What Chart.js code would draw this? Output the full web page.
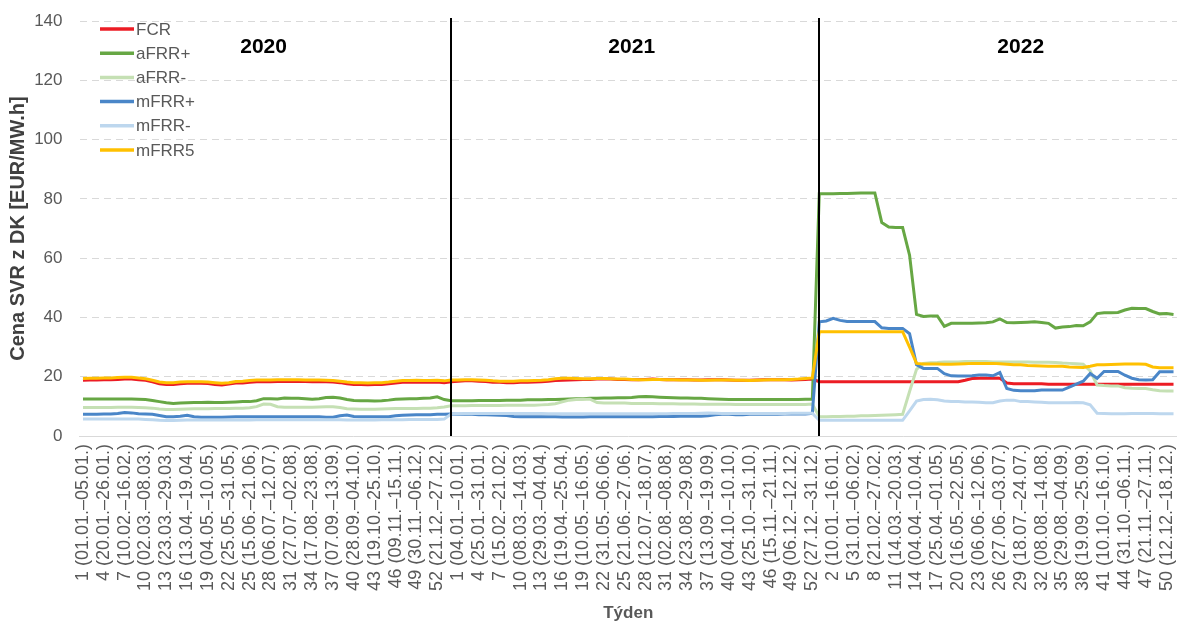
<!DOCTYPE html>
<html>
<head>
<meta charset="utf-8">
<script src="https://cdn.jsdelivr.net/npm/chart.js@4.4.1/dist/chart.umd.min.js"></script>
<style>
  html, body { margin: 0; padding: 0; background: #fff; }
  #wrap { width: 1177px; height: 624px; }
</style>
</head>
<body>
<div id="wrap"><canvas id="chart1" width="1177" height="624"></canvas></div>
<script>
// weekly prices, EUR/MW.h (2020: 53 entries, 2021: 53, 2022: 52)
var fcr = [
  18.8, 18.9, 18.9, 19.0, 19.0, 19.1, 19.2, 19.2, 19.0, 18.8,
  18.3, 17.6, 17.4, 17.4, 17.6, 17.8, 17.8, 17.8, 17.7, 17.4,
  17.2, 17.5, 17.9, 17.9, 18.1, 18.3, 18.3, 18.3, 18.4, 18.4,
  18.4, 18.4, 18.4, 18.3, 18.3, 18.3, 18.2, 18.0, 17.6, 17.4,
  17.4, 17.3, 17.4, 17.4, 17.6, 17.9, 18.1, 18.1, 18.2, 18.1,
  18.1, 18.2, 18.0,
  18.3, 18.5, 18.6, 18.6, 18.5, 18.4, 18.1, 18.1, 18.0, 18.0,
  18.1, 18.1, 18.2, 18.3, 18.5, 18.7, 18.8, 18.9, 19.0, 19.1,
  19.1, 19.2, 19.2, 19.2, 19.1, 19.1, 19.0, 19.0, 19.1, 19.2,
  19.1, 19.0, 19.0, 19.0, 19.0, 18.9, 18.9, 19.0, 19.0, 19.0,
  18.9, 18.8, 18.8, 18.8, 18.9, 19.0, 19.0, 19.0, 19.0, 18.9,
  19.0, 19.1, 19.2,
  18.3, 18.3, 18.3, 18.3, 18.3, 18.3, 18.3, 18.3, 18.3, 18.3,
  18.3, 18.3, 18.3, 18.3, 18.3, 18.3, 18.3, 18.3, 18.3, 18.3,
  18.3, 18.8, 19.4, 19.5, 19.5, 19.5, 19.5, 17.9, 17.6, 17.6,
  17.6, 17.6, 17.6, 17.5, 17.5, 17.5, 17.5, 17.5, 17.5, 17.5,
  17.5, 17.5, 17.5, 17.5, 17.5, 17.5, 17.5, 17.5, 17.5, 17.5,
  17.5, 17.5
];
var afrrPlus = [
  12.5, 12.5, 12.5, 12.5, 12.5, 12.5, 12.5, 12.5, 12.4, 12.3,
  12.0, 11.6, 11.2, 11.0, 11.1, 11.2, 11.3, 11.3, 11.4, 11.3,
  11.3, 11.4, 11.5, 11.6, 11.6, 11.9, 12.6, 12.6, 12.5, 12.8,
  12.7, 12.7, 12.6, 12.4, 12.6, 13.0, 13.1, 12.8, 12.3, 12.0,
  11.9, 11.9, 11.8, 11.9, 12.1, 12.4, 12.5, 12.6, 12.6, 12.7,
  12.8, 13.2, 12.3,
  11.9, 11.9, 11.9, 11.9, 12.0, 12.0, 12.0, 12.0, 12.1, 12.1,
  12.1, 12.2, 12.2, 12.2, 12.3, 12.3, 12.4, 12.5, 12.6, 12.6,
  12.7, 12.7, 12.8, 12.8, 12.9, 12.9, 13.0, 13.2, 13.3, 13.2,
  13.1, 13.0, 12.9, 12.8, 12.8, 12.7, 12.7, 12.6, 12.5, 12.4,
  12.3, 12.3, 12.3, 12.3, 12.3, 12.3, 12.3, 12.3, 12.3, 12.3,
  12.3, 12.4, 12.4,
  81.7, 81.7, 81.7, 81.8, 81.8, 81.9, 82.0, 82.0, 82.0, 72.0,
  70.5, 70.3, 70.3, 61.0, 41.0, 40.3, 40.5, 40.5, 37.0, 38.0,
  38.0, 38.0, 38.0, 38.1, 38.2, 38.5, 39.5, 38.3, 38.2, 38.3,
  38.4, 38.5, 38.3, 38.0, 36.4, 36.8, 36.9, 37.3, 37.2, 38.5,
  41.3, 41.6, 41.6, 41.7, 42.5, 43.1, 43.0, 43.0, 42.0, 41.2,
  41.3, 41.0
];
var afrrMinus = [
  9.6, 9.6, 9.6, 9.6, 9.6, 9.7, 9.7, 9.7, 9.6, 9.5,
  9.4, 9.1, 8.9, 8.9, 9.0, 9.1, 9.2, 9.2, 9.2, 9.3,
  9.3, 9.3, 9.4, 9.4, 9.5, 9.9, 10.8, 10.7, 9.9, 9.7,
  9.7, 9.7, 9.7, 9.7, 9.8, 9.9, 9.9, 9.6, 9.2, 9.1,
  9.0, 9.0, 9.0, 9.1, 9.2, 9.3, 9.3, 9.3, 9.3, 9.4,
  9.4, 9.5, 9.8,
  10.2, 10.2, 10.2, 10.3, 10.3, 10.3, 10.3, 10.3, 10.4, 10.4,
  10.4, 10.4, 10.4, 10.5, 10.6, 10.9, 11.5, 12.1, 12.3, 12.4,
  12.4, 11.3, 11.1, 11.1, 11.1, 11.1, 11.0, 11.0, 11.0, 11.0,
  10.9, 10.9, 10.9, 10.8, 10.8, 10.8, 10.7, 10.7, 10.7, 10.7,
  10.7, 10.6, 10.6, 10.6, 10.6, 10.6, 10.6, 10.6, 10.6, 10.6,
  10.6, 10.6, 10.8,
  6.5, 6.5, 6.6, 6.6, 6.7, 6.7, 6.8, 6.8, 6.9, 7.0,
  7.1, 7.2, 7.3, 15.0, 22.5, 24.5, 24.7, 24.8, 25.0, 25.0,
  25.0, 25.1, 25.1, 25.1, 25.1, 25.0, 25.0, 25.0, 25.0, 25.0,
  25.0, 24.9, 24.9, 24.9, 24.8, 24.6, 24.5, 24.4, 24.2, 22.0,
  17.2, 17.0, 16.9, 16.9, 16.3, 16.1, 16.0, 16.0, 15.6, 15.3,
  15.2, 15.2
];
var mfrrPlus = [
  7.3, 7.3, 7.3, 7.4, 7.4, 7.6, 7.9, 7.8, 7.5, 7.4,
  7.3, 6.9, 6.5, 6.5, 6.7, 7.0, 6.5, 6.3, 6.3, 6.3,
  6.3, 6.4, 6.5, 6.5, 6.5, 6.5, 6.5, 6.5, 6.5, 6.5,
  6.5, 6.5, 6.5, 6.5, 6.5, 6.3, 6.3, 6.8, 7.1, 6.6,
  6.5, 6.5, 6.5, 6.5, 6.5, 6.8, 7.0, 7.1, 7.2, 7.2,
  7.2, 7.3, 7.3,
  7.4, 7.3, 7.3, 7.3, 7.2, 7.2, 7.1, 7.0, 6.9, 6.6,
  6.5, 6.5, 6.5, 6.5, 6.5, 6.5, 6.4, 6.4, 6.4, 6.4,
  6.5, 6.5, 6.5, 6.5, 6.5, 6.5, 6.5, 6.5, 6.5, 6.5,
  6.6, 6.6, 6.6, 6.7, 6.7, 6.7, 6.7, 6.8, 7.2, 7.3,
  7.3, 7.2, 7.2, 7.3, 7.3, 7.3, 7.3, 7.3, 7.4, 7.4,
  7.4, 7.4, 7.6,
  38.5, 38.8, 39.7, 39.0, 38.6, 38.6, 38.6, 38.6, 38.6, 36.5,
  36.3, 36.3, 36.3, 34.5, 24.0, 22.8, 22.8, 22.8, 21.0, 20.3,
  20.2, 20.2, 20.3, 20.6, 20.6, 20.3, 21.4, 16.0, 15.4, 15.3,
  15.3, 15.3, 15.5, 15.5, 15.5, 15.5, 16.5, 17.5, 18.5, 21.1,
  19.5, 21.8, 21.8, 21.8, 20.5, 19.5, 19.0, 18.9, 19.0, 21.7,
  21.7, 21.7
];
var mfrrMinus = [
  5.7, 5.7, 5.7, 5.7, 5.7, 5.7, 5.7, 5.7, 5.7, 5.6,
  5.5, 5.3, 5.2, 5.2, 5.3, 5.4, 5.4, 5.4, 5.4, 5.4,
  5.4, 5.4, 5.4, 5.4, 5.4, 5.5, 5.5, 5.5, 5.5, 5.5,
  5.5, 5.5, 5.5, 5.5, 5.5, 5.5, 5.5, 5.5, 5.4, 5.4,
  5.4, 5.4, 5.4, 5.5, 5.5, 5.5, 5.5, 5.6, 5.6, 5.6,
  5.6, 5.6, 5.7,
  7.4, 7.5, 7.6, 7.6, 7.6, 7.6, 7.6, 7.6, 7.6, 7.6,
  7.6, 7.6, 7.6, 7.6, 7.5, 7.5, 7.5, 7.5, 7.5, 7.5,
  7.5, 7.5, 7.5, 7.5, 7.5, 7.5, 7.5, 7.5, 7.5, 7.5,
  7.5, 7.5, 7.6, 7.6, 7.6, 7.6, 7.7, 7.8, 7.7, 7.6,
  7.6, 7.6, 7.6, 7.6, 7.6, 7.6, 7.6, 7.6, 7.6, 7.7,
  7.7, 7.7, 7.7,
  5.3, 5.3, 5.3, 5.3, 5.3, 5.3, 5.3, 5.3, 5.3, 5.3,
  5.3, 5.3, 5.3, 8.5, 11.8, 12.3, 12.4, 12.2, 11.8, 11.6,
  11.6, 11.5, 11.5, 11.4, 11.2, 11.2, 11.8, 12.1, 12.1, 11.6,
  11.6, 11.5, 11.4, 11.2, 11.2, 11.2, 11.2, 11.3, 11.2, 10.5,
  7.7, 7.6, 7.5, 7.5, 7.5, 7.6, 7.6, 7.6, 7.6, 7.5,
  7.5, 7.5
];
var mfrr5 = [
  19.4, 19.5, 19.5, 19.6, 19.6, 19.7, 19.8, 19.8, 19.6, 19.3,
  18.8, 18.2, 18.0, 18.0, 18.2, 18.3, 18.3, 18.3, 18.2, 18.0,
  17.8, 18.0, 18.4, 18.5, 18.7, 18.9, 18.9, 18.9, 19.0, 19.0,
  19.0, 19.0, 18.9, 18.9, 18.9, 18.8, 18.7, 18.5, 18.2, 18.0,
  18.0, 17.9, 18.0, 18.0, 18.2, 18.5, 18.7, 18.7, 18.8, 18.7,
  18.7, 18.8, 18.6,
  18.9, 18.9, 19.0, 19.0, 18.9, 18.8, 18.6, 18.5, 18.5, 18.5,
  18.6, 18.6, 18.7, 18.8, 19.0, 19.3, 19.5, 19.5, 19.4, 19.3,
  19.3, 19.4, 19.4, 19.3, 19.2, 19.2, 19.1, 19.0, 19.0, 19.1,
  19.1, 19.0, 19.0, 18.9, 18.9, 18.9, 18.8, 18.8, 18.9, 18.9,
  18.9, 18.8, 18.8, 18.7, 18.8, 18.9, 19.0, 19.0, 19.0, 19.1,
  19.2, 19.4, 19.6,
  35.2, 35.2, 35.2, 35.2, 35.2, 35.2, 35.2, 35.2, 35.2, 35.2,
  35.2, 35.2, 35.2, 30.0, 24.5, 24.3, 24.3, 24.3, 24.2, 24.2,
  24.3, 24.4, 24.5, 24.5, 24.5, 24.5, 24.4, 24.2, 24.0, 24.0,
  23.8, 23.7, 23.6, 23.5, 23.5, 23.5, 23.3, 23.2, 23.1, 23.5,
  24.0, 24.0, 24.1, 24.2, 24.3, 24.3, 24.3, 24.2, 23.3, 23.0,
  23.0, 23.0
];

var seriesNames = ['FCR', 'aFRR+', 'aFRR-', 'mFRR+', 'mFRR-', 'mFRR5'];
var seriesData = [fcr, afrrPlus, afrrMinus, mfrrPlus, mfrrMinus, mfrr5];
var seriesColors = ['#ec1c24', '#67a744', '#c5e0b4', '#4a86c8', '#bdd7ee', '#ffc000'];
var years = ['2020', '2021', '2022'];
var yearLabelAt = [26, 79, 135]; // category where each year caption sits

// week labels: "week (dd.mm.–dd.mm.)", weeks Mon-Sun cut at the year end
function pad2(n) { return (n < 10 ? '0' : '') + n; }
function isoWeek(d) {
  var t = new Date(Date.UTC(d.getUTCFullYear(), d.getUTCMonth(), d.getUTCDate()));
  var day = t.getUTCDay() || 7;
  t.setUTCDate(t.getUTCDate() + 4 - day);
  var y0 = Date.UTC(t.getUTCFullYear(), 0, 1);
  return Math.ceil(((t - y0) / 86400000 + 1) / 7);
}
var weekLabels = [];
var yearStart = [];
var lastDay = Date.UTC(2022, 11, 25);
years.forEach(function (yr) {
  yr = parseInt(yr, 10);
  yearStart.push(weekLabels.length);
  var d = new Date(Date.UTC(yr, 0, 1));
  while (d.getUTCFullYear() === yr && d.getTime() <= lastDay) {
    var e = new Date(d.getTime());
    e.setUTCDate(e.getUTCDate() + 7 - (e.getUTCDay() || 7));
    if (e.getUTCFullYear() !== yr) e = new Date(Date.UTC(yr, 11, 31));
    weekLabels.push(isoWeek(d) + ' (' + pad2(d.getUTCDate()) + '.' + pad2(d.getUTCMonth() + 1) + '.\u2013' +
      pad2(e.getUTCDate()) + '.' + pad2(e.getUTCMonth() + 1) + '.)');
    d = new Date(e.getTime() + 86400000);
  }
});

var fontFam = '"Liberation Sans", Arial, sans-serif';

var extras = {
  id: 'extras',
  afterDatasetsDraw: function (chart) {
    var ctx = chart.ctx;
    var xs = chart.scales.x;
    var area = chart.chartArea;
    ctx.save();
    // year separators
    ctx.strokeStyle = '#000';
    ctx.lineWidth = 2;
    for (var i = 1; i < yearStart.length; i++) {
      var px = Math.round(xs.getPixelForValue(yearStart[i]));
      ctx.beginPath();
      ctx.moveTo(px, area.top - 3);
      ctx.lineTo(px, area.bottom);
      ctx.stroke();
    }
    // year captions
    ctx.fillStyle = '#000';
    ctx.font = 'bold 21px ' + fontFam;
    ctx.textAlign = 'center';
    ctx.textBaseline = 'middle';
    years.forEach(function (y, k) {
      ctx.fillText(y, xs.getPixelForValue(yearLabelAt[k]), 47);
    });
    // legend
    ctx.font = '17px ' + fontFam;
    ctx.textAlign = 'left';
    chart.data.datasets.forEach(function (ds, k) {
      var ly = 29 + k * 24.2;
      ctx.strokeStyle = ds.borderColor;
      ctx.lineWidth = 3.5;
      ctx.beginPath();
      ctx.moveTo(100, ly);
      ctx.lineTo(134, ly);
      ctx.stroke();
      ctx.fillStyle = '#595959';
      ctx.fillText(ds.label, 136, ly + 1);
    });
    ctx.restore();
  }
};

var ctx = document.getElementById('chart1').getContext('2d');
var myChart1 = new Chart(ctx, {
  type: 'line',
  data: {
    labels: weekLabels,
    datasets: seriesNames.map(function (name, i) {
      return {
        label: name,
        data: seriesData[i],
        borderColor: seriesColors[i],
        backgroundColor: seriesColors[i],
        borderWidth: 3,
        pointRadius: 0,
        tension: 0,
        fill: false,
        order: seriesNames.length - i
      };
    })
  },
  options: {
    responsive: false,
    animation: false,
    layout: { padding: { top: 21, right: 0, bottom: 0, left: 0 } },
    plugins: {
      legend: { display: false },
      tooltip: { enabled: false }
    },
    scales: {
      x: {
        offset: true,
        grid: { display: false, drawTicks: false },
        border: { display: true, color: '#d9d9d9', width: 1 },
        ticks: {
          autoSkip: false,
          minRotation: 90,
          maxRotation: 90,
          padding: 8,
          color: '#595959',
          font: { family: fontFam, size: 18 },
          callback: function (value, index) {
            return index % 3 === 0 ? this.getLabelForValue(value) : null;
          }
        },
        title: {
          display: true,
          text: 'Týden',
          color: '#595959',
          font: { family: fontFam, size: 17, weight: 'bold' },
          padding: 0
        },
        afterFit: function (scale) {
          scale.height = 188;
          scale.paddingLeft = 0;
          scale.paddingRight = 0;
        }
      },
      y: {
        min: 0,
        max: 140,
        ticks: {
          stepSize: 20,
          padding: 17,
          color: '#595959',
          font: { family: fontFam, size: 17 }
        },
        grid: { color: '#d9d9d9', drawTicks: false, lineWidth: 1 },
        border: { display: false, dash: [7, 5] },
        title: {
          display: true,
          text: 'Cena SVR z DK [EUR/MW.h]',
          color: '#404040',
          font: { family: fontFam, size: 20, weight: 'bold' },
          padding: { top: 6, bottom: 0 }
        },
        afterFit: function (scale) {
          scale.width = 79.5;
          scale.paddingTop = 0;
          scale.paddingBottom = 0;
        }
      }
    }
  },
  plugins: [extras]
});
</script>
</body>
</html>
